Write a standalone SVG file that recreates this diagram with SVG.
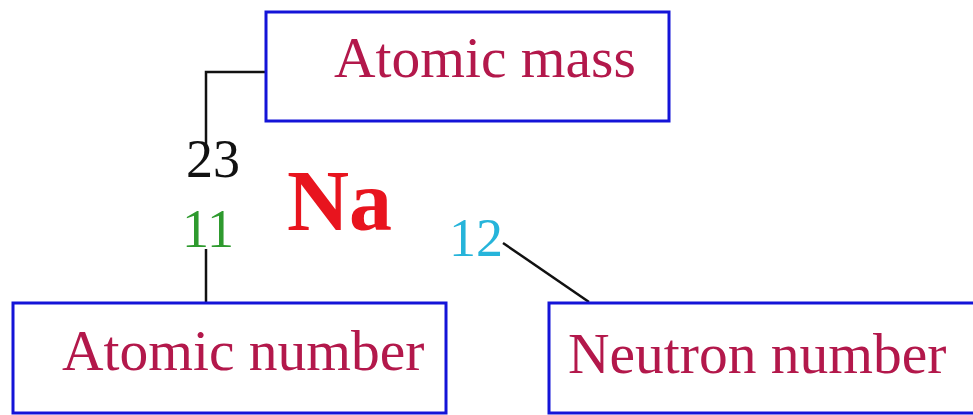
<svg xmlns="http://www.w3.org/2000/svg" width="973" height="415" viewBox="0 0 973 415">
<style>
.box{fill:#fff;stroke:#1414d8;stroke-width:3}
.lbl{font-family:"Liberation Serif","Times New Roman",serif;font-size:57.5px;fill:#b3184b}
.num{font-family:"Liberation Serif","Times New Roman",serif;font-size:54px}
.con{fill:none;stroke:#111;stroke-width:2.5}
</style>
<rect width="973" height="415" fill="#fff"/>
<g id="connectors">
<polyline class="con" points="206,146 206,72 266,72"/>
<line class="con" x1="206" y1="249" x2="206" y2="303"/>
<line class="con" x1="503" y1="243" x2="589" y2="302"/>
</g>
<g id="atomic-mass">
<rect class="box" x="266" y="12" width="403" height="109"/>
<text class="lbl" x="334" y="77">Atomic mass</text>
</g>
<g id="atomic-number">
<rect class="box" x="13" y="303" width="433" height="110"/>
<text class="lbl" x="62" y="370">Atomic number</text>
</g>
<g id="neutron-number">
<rect class="box" x="549" y="303" width="440" height="110"/>
<text class="lbl" x="568" y="373">Neutron number</text>
</g>
<g id="symbol">
<text class="num" x="186" y="177" fill="#111">23</text>
<text class="num" x="182" y="247" fill="#2e9a2e">11</text>
<text x="287" y="230" font-family="'Liberation Serif','Times New Roman',serif" font-size="86" font-weight="bold" fill="#e8141e">Na</text>
<text class="num" x="449" y="256" fill="#26b4da">12</text>
</g>
</svg>
